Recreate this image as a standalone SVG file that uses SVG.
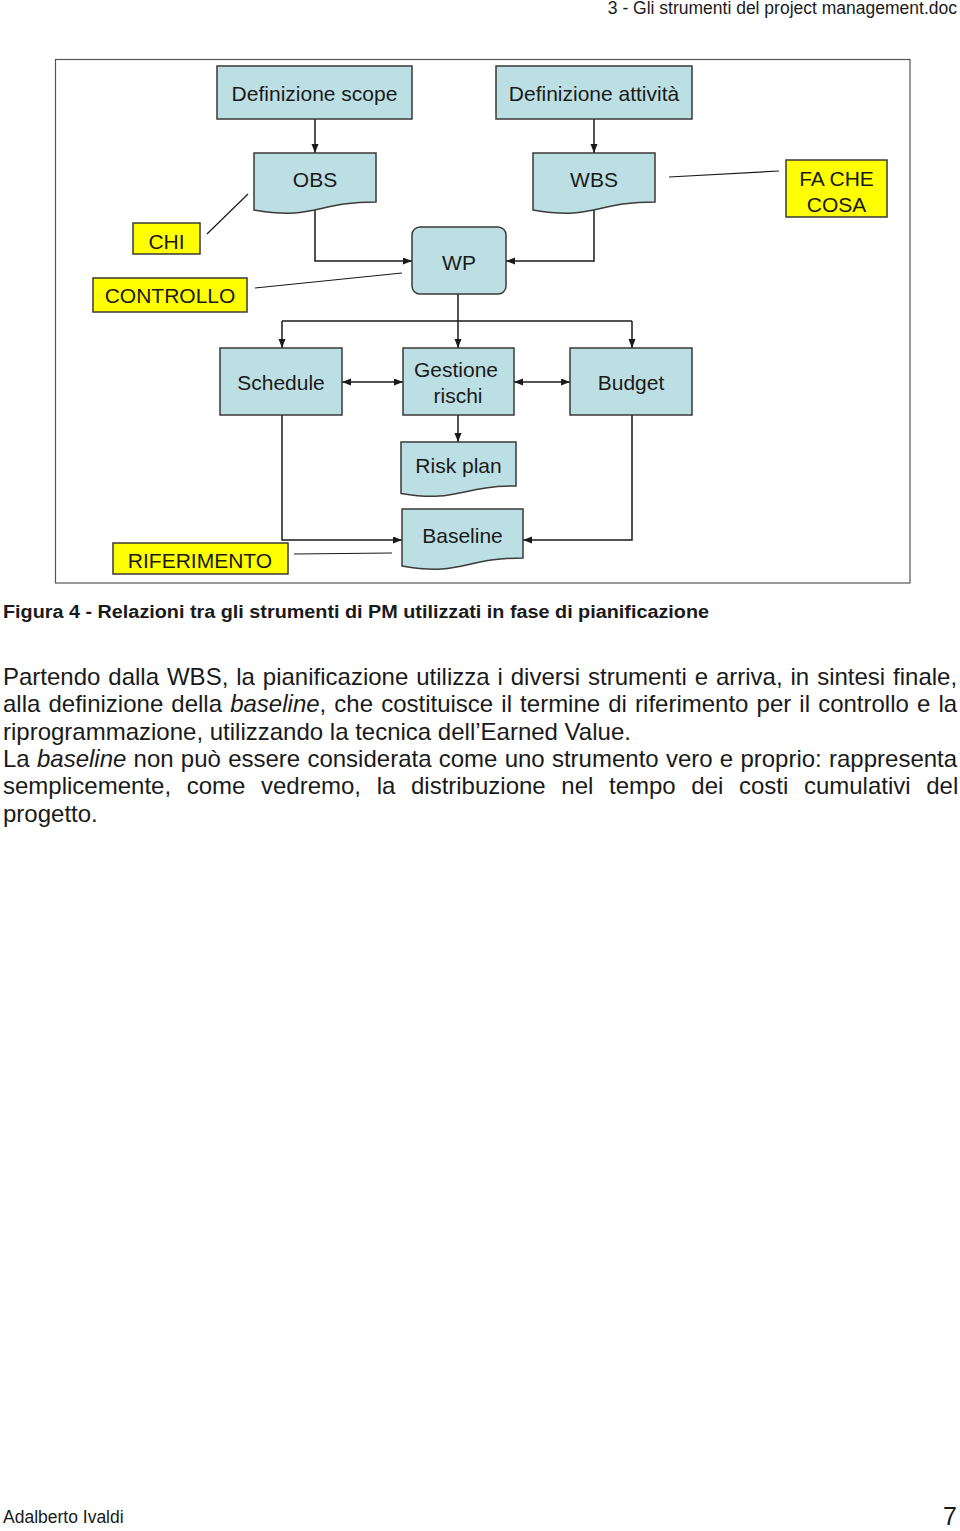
<svg xmlns="http://www.w3.org/2000/svg" width="960" height="1531" viewBox="0 0 960 1531">
<style>
text{font-family:"Liberation Sans",Arial,sans-serif;fill:#1a1a1a}
.n{fill:#bcdfe3;stroke:#3a3a3a;stroke-width:1.5}
.y{fill:#ffff00;stroke:#3a3a3a;stroke-width:1.5}
.t{font-size:21px;text-anchor:middle}
.c{fill:none;stroke:#1a1a1a;stroke-width:1.5}
.a{marker-end:url(#ah)}
.b{marker-start:url(#ah);marker-end:url(#ah)}
.l{fill:none;stroke:#1a1a1a;stroke-width:1.2}
.body{font-size:24px}
</style>
<defs>
<marker id="ah" markerWidth="10" markerHeight="8" refX="9" refY="3.5" orient="auto-start-reverse" markerUnits="userSpaceOnUse">
<path d="M0,0 L9,3.5 L0,7 z" fill="#1a1a1a"/>
</marker>
</defs>
<rect width="960" height="1531" fill="#ffffff"/>
<text x="957" y="14" font-size="17.5" text-anchor="end">3 - Gli strumenti del project management.doc</text>
<rect x="55.5" y="59.5" width="854.5" height="523.5" fill="#ffffff" stroke="#555" stroke-width="1.2"/>
<g id="connectors">
<path class="c a" d="M315,119 V153"/>
<path class="c a" d="M594,119 V153"/>
<path class="c a" d="M315,205 V261 H412"/>
<path class="c a" d="M594,205 V261 H506"/>
<path class="c a" d="M458,294 V348"/>
<path class="c" d="M282,321 H632"/>
<path class="c a" d="M282,321 V348"/>
<path class="c a" d="M632,321 V348"/>
<path class="c b" d="M342,382 H403"/>
<path class="c b" d="M514,382 H570"/>
<path class="c a" d="M458,415 V442"/>
<path class="c a" d="M282,415 V540 H402"/>
<path class="c a" d="M632,415 V540 H523"/>
<path class="l" d="M207,234 L248,194"/>
<path class="l" d="M255,288 L402,273"/>
<path class="l" d="M669,177 L779,171"/>
<path class="l" d="M294,554 L392,553"/>
</g>
<g id="def-scope"><rect class="n" x="217" y="66" width="195" height="53"/><text class="t" x="314.5" y="101">Definizione scope</text></g>
<g id="def-attivita"><rect class="n" x="496" y="66" width="196" height="53"/><text class="t" x="594" y="101">Definizione attività</text></g>
<g id="obs"><path class="n" d="M254,153 H376 V202 C315,202 315,220.5 254,210 Z"/><text class="t" x="315" y="187">OBS</text></g>
<g id="wbs"><path class="n" d="M533,153 H655 V202 C594,202 594,220.5 533,210 Z"/><text class="t" x="594" y="187">WBS</text></g>
<g id="fa-che-cosa"><rect class="y" x="786" y="160" width="101" height="57"/><text class="t" x="836.5" y="186">FA CHE</text><text class="t" x="836.5" y="212">COSA</text></g>
<g id="chi"><rect class="y" x="133" y="223" width="67" height="31"/><text class="t" x="166.5" y="249">CHI</text></g>
<g id="controllo"><rect class="y" x="93" y="278" width="154" height="34"/><text class="t" x="170" y="303">CONTROLLO</text></g>
<g id="wp"><rect class="n" x="412" y="227" width="94" height="67" rx="8"/><text class="t" x="459" y="270">WP</text></g>
<g id="schedule"><rect class="n" x="220" y="348" width="122" height="67"/><text class="t" x="281" y="390">Schedule</text></g>
<g id="gestione-rischi"><rect class="n" x="403" y="348" width="111" height="67"/><text class="t" x="456" y="377">Gestione</text><text class="t" x="458" y="403">rischi</text></g>
<g id="budget"><rect class="n" x="570" y="348" width="122" height="67"/><text class="t" x="631" y="390">Budget</text></g>
<g id="risk-plan"><path class="n" d="M401,442 H516 V486 C458.5,486 458.5,502.9 401,493.4 Z"/><text class="t" x="458.5" y="473">Risk plan</text></g>
<g id="baseline"><path class="n" d="M402,509 H523 V558 C462.5,558 462.5,576.5 402,566 Z"/><text class="t" x="462.5" y="543">Baseline</text></g>
<g id="riferimento"><rect class="y" x="113" y="543" width="175" height="31"/><text class="t" x="200" y="568">RIFERIMENTO</text></g>
<text x="3" y="618" font-size="18" font-weight="bold" textLength="706" lengthAdjust="spacingAndGlyphs">Figura 4 - Relazioni tra gli strumenti di PM utilizzati in fase di pianificazione</text>
<text class="body" x="3" y="685" word-spacing="1.26">Partendo dalla WBS, la pianificazione utilizza i diversi strumenti e arriva, in sintesi finale,</text>
<text class="body" x="3" y="712.3" word-spacing="1.45">alla definizione della <tspan font-style="italic">baseline</tspan>, che costituisce il termine di riferimento per il controllo e la</text>
<text class="body" x="3" y="739.6">riprogrammazione, utilizzando la tecnica dell’Earned Value.</text>
<text class="body" x="3" y="767" word-spacing="0.57">La <tspan font-style="italic">baseline</tspan> non può essere considerata come uno strumento vero e proprio: rappresenta</text>
<text class="body" x="3" y="794.2" word-spacing="8.95">semplicemente, come vedremo, la distribuzione nel tempo dei costi cumulativi del</text>
<text class="body" x="3" y="821.5">progetto.</text>
<text x="3" y="1523" font-size="17.5">Adalberto Ivaldi</text>
<text x="957" y="1525" font-size="25" text-anchor="end">7</text>
</svg>
